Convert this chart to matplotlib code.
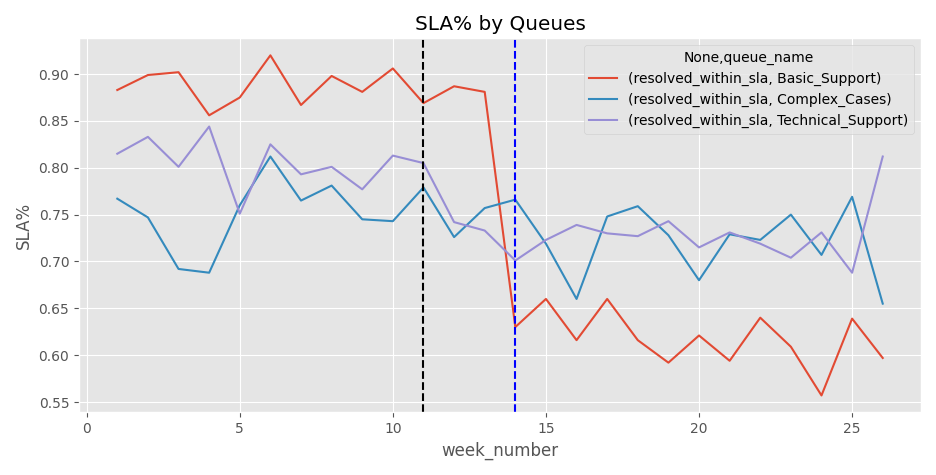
import matplotlib
matplotlib.use('Agg')
import matplotlib.pyplot as plt

plt.style.use('ggplot')

weeks = list(range(1, 27))
basic = [0.883, 0.899, 0.902, 0.856, 0.875, 0.920, 0.867, 0.898, 0.881, 0.906,
         0.869, 0.887, 0.881, 0.630, 0.660, 0.616, 0.660, 0.616, 0.592, 0.621,
         0.594, 0.640, 0.609, 0.557, 0.639, 0.597]
complex_ = [0.767, 0.747, 0.692, 0.688, 0.760, 0.812, 0.765, 0.781, 0.745, 0.743,
            0.779, 0.726, 0.757, 0.766, 0.719, 0.660, 0.748, 0.759, 0.728, 0.680,
            0.729, 0.723, 0.750, 0.707, 0.769, 0.655]
technical = [0.815, 0.833, 0.801, 0.844, 0.751, 0.825, 0.793, 0.801, 0.777, 0.813,
             0.805, 0.742, 0.733, 0.701, 0.723, 0.739, 0.730, 0.727, 0.743, 0.715,
             0.731, 0.719, 0.704, 0.731, 0.688, 0.812]
series = [("Basic_Support", basic), ("Complex_Cases", complex_), ("Technical_Support", technical)]

fig, ax = plt.subplots(figsize=(9.36, 4.75), dpi=100)
for name, vals in series:
    ax.plot(weeks, vals, label=f"(resolved_within_sla, {name})")
ax.axvline(11, color='black', ls='--')
ax.axvline(14, color='blue', ls='--')
ax.set_title("SLA% by Queues")
ax.set_xlabel("week_number")
ax.set_ylabel("SLA%")
ax.legend(title="None,queue_name", loc='upper right')
plt.tight_layout()
plt.savefig("out.png")
